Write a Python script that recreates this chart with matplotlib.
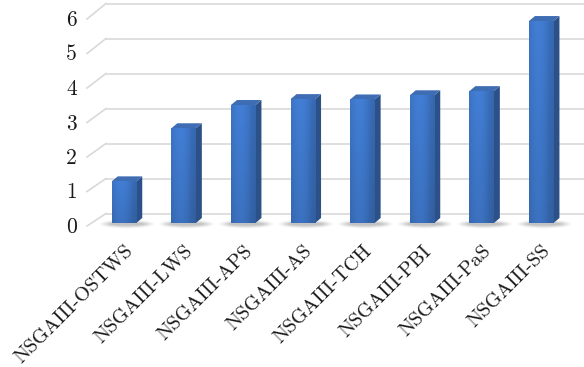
import numpy as np
import matplotlib
import matplotlib.pyplot as plt
from matplotlib.patches import Polygon, Ellipse
from matplotlib.colors import to_rgb

methods = ["NSGAIII-OSTWS", "NSGAIII-LWS", "NSGAIII-APS", "NSGAIII-AS",
           "NSGAIII-TCH", "NSGAIII-PBI", "NSGAIII-PaS", "NSGAIII-SS"]
scores = [1.20, 2.73, 3.40, 3.57, 3.56, 3.68, 3.80, 5.82]
yticks = [0, 1, 2, 3, 4, 5, 6]

plt.rcParams['font.family'] = ['cmr10', 'DejaVu Serif']
plt.rcParams['axes.formatter.use_mathtext'] = True

W, H = 584, 367
fig = plt.figure(figsize=(W / 100, H / 100), dpi=100)

# pixel pitch of one category and of one value unit (front plane of the columns)
PX_X = 59.6
PX_Y = 34.7
x0_px = 124          # centre of the first column
y0_px = 223          # foot of the columns, from the top edge
left_px, right_px = 60, 584
bottom_px, top_px = 250, 0

ax = fig.add_axes([left_px / W, 1 - bottom_px / H,
                   (right_px - left_px) / W, (bottom_px - top_px) / H])
ax.axis('off')


def ux(px):
    return px / PX_X


def uy(px):
    return px / PX_Y


# pseudo-3D offsets: back wall and column depth
wall_dy = uy(9.5)
front_dy = uy(-3)
wall_left = ux(106 - x0_px)
front_left = ux(87 - x0_px)
depth_dx, depth_dy = ux(6), uy(5)
bar_w = ux(24.5)

grid_c = '#d9d9d9'
xmax = (right_px - x0_px) / PX_X
for t in yticks:
    yb = t * (35.0 / 34.7) + wall_dy
    yf = t * (34.5 / 34.7) + front_dy
    ax.plot([wall_left, xmax], [yb, yb], color=grid_c, lw=1.2, zorder=1,
            solid_capstyle='butt')
    ax.plot([front_left, wall_left], [yf, yb], color=grid_c, lw=1.2, zorder=1)
    ax.text(ux(77 - x0_px), yf - uy(7), str(t), ha='right', va='baseline',
            fontsize=15.5, color='#1a1a1a')

front_c = np.array(to_rgb('#3b71bf'))
side_c = '#2c5189'
top_c = '#3f6db3'

# horizontal/vertical shading for the column fronts
nx, ny = 40, 60
gx = np.linspace(0, 1, nx)
gy = np.linspace(0, 1, ny)[:, None]
hshade = 1.0 + 0.10 * np.sin(np.pi * np.clip(gx * 1.2, 0, 1)) - 0.10 * gx ** 3
vshade = 0.92 + 0.10 * gy
shade = (hshade[None, :] * vshade)[..., None]

for i, v in enumerate(scores):
    xl, xr = i - bar_w / 2, i + bar_w / 2
    # soft floor shadow
    for k, a in zip(range(6), [0.04, 0.05, 0.06, 0.07, 0.08, 0.09]):
        ax.add_patch(Ellipse((i + ux(3), uy(-1.0)), bar_w + ux(30 - 4 * k),
                             uy(9 - 1.2 * k), facecolor='#505050',
                             edgecolor='none', alpha=a, zorder=2))
    ax.bar(i, v, width=bar_w, bottom=0, color=front_c, edgecolor='none',
           zorder=4)
    img = np.clip(front_c[None, None, :] * shade, 0, 1)
    ax.imshow(img, extent=[xl, xr, 0, v], origin='lower', aspect='auto',
              interpolation='bilinear', zorder=5)
    ax.add_patch(Polygon([(xr, 0), (xr + depth_dx, depth_dy),
                          (xr + depth_dx, v + depth_dy), (xr, v)],
                         closed=True, facecolor=side_c, edgecolor='none',
                         zorder=4))
    ax.add_patch(Polygon([(xl, v), (xr, v), (xr + depth_dx, v + depth_dy),
                          (xl + depth_dx, v + depth_dy)],
                         closed=True, facecolor=top_c, edgecolor='none',
                         zorder=4))
    ax.text(i + ux(0), uy(-19), methods[i], rotation=45, ha='right', va='top',
            rotation_mode='anchor', fontsize=14.5, color='#1a1a1a')

ax.set_xlim((left_px - x0_px) / PX_X, xmax)
ax.set_ylim((y0_px - bottom_px) / PX_Y, (y0_px - top_px) / PX_Y)

fig.savefig('out.png', dpi=100)
